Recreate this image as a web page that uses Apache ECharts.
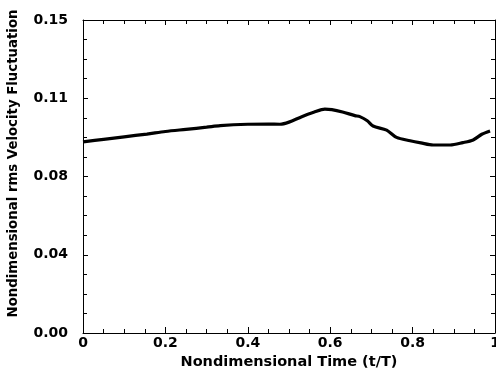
<!DOCTYPE html>
<html><head><meta charset="utf-8">
<script src="https://cdn.jsdelivr.net/npm/echarts@6/dist/echarts.min.js"></script>
<style>html,body{margin:0;padding:0;background:#fff}#c{width:496px;height:373px}</style>
</head><body><div id="c"></div>
<script>
const tValues = [0, 0.05, 0.10, 0.155, 0.20, 0.25, 0.30, 0.333, 0.40, 0.45, 0.478, 0.50, 0.531, 0.56, 0.587, 0.604, 0.63, 0.66, 0.672, 0.69, 0.704, 0.737, 0.761, 0.794, 0.82, 0.85, 0.891, 0.922, 0.947, 0.968, 0.988];
const rmsValues = [0.0977, 0.0990, 0.1003, 0.1017, 0.1030, 0.1041, 0.1052, 0.1060, 0.1067, 0.1068, 0.1067, 0.1078, 0.1106, 0.1128, 0.1144, 0.1142, 0.1130, 0.1111, 0.1106, 0.1085, 0.1058, 0.1037, 0.1000, 0.0983, 0.0972, 0.0961, 0.0961, 0.0973, 0.0987, 0.1016, 0.1033];
const xTickLabels = ["0", "0.2", "0.4", "0.6", "0.8", "1"];
const yTickLabels = ["0.00", "0.04", "0.08", "0.11", "0.15"];
const xTitle = "Nondimensional Time (t/T)";
const yTitle = "Nondimensional rms Velocity Fluctuation";

const font = "DejaVu Sans";
const chart = echarts.init(document.getElementById('c'));
const axLine = {show: true, onZero: false, lineStyle: {color: '#000', width: 1}};
const mirrorTick = {show: true, inside: true, length: 5, lineStyle: {color: '#000'}};
const mirrorMinor = {show: true, splitNumber: 4, length: 4, lineStyle: {color: '#000'}};
chart.setOption({
  animation: false,
  grid: {left: 83, right: 1, top: 20, bottom: 40, outerBoundsMode: 'none', containLabel: false},
  xAxis: [{
    type: 'value', min: 0, max: 1, interval: 0.2,
    axisLine: axLine,
    axisTick: {show: true, inside: true, length: 6, lineStyle: {color: '#000'}},
    minorTick: {show: true, splitNumber: 4, length: 4, lineStyle: {color: '#000'}},
    splitLine: {show: false},
    axisLabel: {color: '#000', fontFamily: font, fontWeight: 'bold', fontSize: 14, margin: 3,
      formatter: v => xTickLabels[Math.round(v / 0.2)] ?? ''},
    name: xTitle, nameLocation: 'middle', nameGap: 20,
    nameTextStyle: {color: '#000', fontFamily: font, fontWeight: 'bold', fontSize: 14.5}
  }, {
    type: 'value', min: 0, max: 1, interval: 0.2, position: 'top',
    axisLine: axLine, axisTick: mirrorTick, minorTick: mirrorMinor,
    splitLine: {show: false}, axisLabel: {show: false}
  }],
  yAxis: [{
    type: 'value', min: 0, max: 0.16, interval: 0.04,
    axisLine: axLine,
    axisTick: {show: true, inside: true, length: 5, lineStyle: {color: '#000'}},
    minorTick: {show: true, splitNumber: 4, length: 4, lineStyle: {color: '#000'}},
    splitLine: {show: false},
    axisLabel: {color: '#000', fontFamily: font, fontWeight: 'bold', fontSize: 14, margin: 15,
      formatter: v => yTickLabels[Math.round(v / 0.04)] ?? ''},
    name: yTitle, nameLocation: 'middle', nameGap: 63,
    nameTextStyle: {color: '#000', fontFamily: font, fontWeight: 'bold', fontSize: 13.3, padding: [0, 0, 0, 26]}
  }, {
    type: 'value', min: 0, max: 0.16, interval: 0.04, position: 'right',
    axisLine: axLine, axisTick: mirrorTick, minorTick: mirrorMinor,
    splitLine: {show: false}, axisLabel: {show: false}
  }],
  series: [{
    type: 'line', smooth: 0.3, symbol: 'none',
    lineStyle: {color: '#000', width: 3.2},
    data: tValues.map((t, i) => [t, rmsValues[i]])
  }]
});
</script></body></html>
